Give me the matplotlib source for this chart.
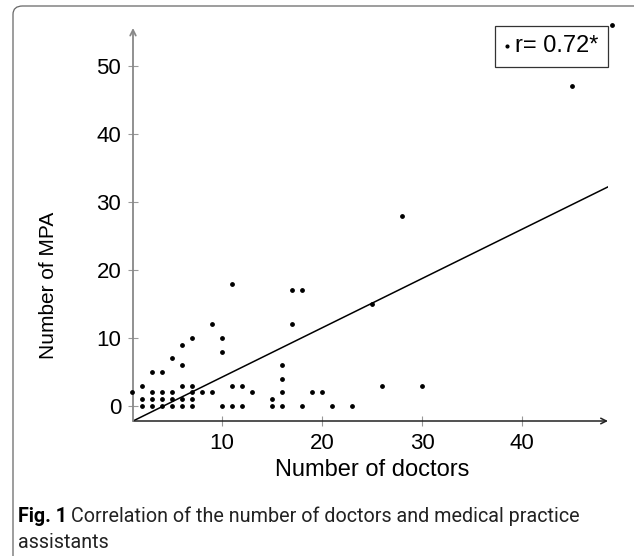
import numpy as np
import matplotlib.pyplot as plt
from matplotlib.patches import FancyBboxPatch

# doctors (x) and medical practice assistants (y) per practice
doctors = [1, 2, 2, 2, 3, 3, 3, 3, 4, 4, 4, 4, 5, 5, 5, 5,
           6, 6, 6, 6, 6, 7, 7, 7, 7, 7, 8, 9, 9, 10, 10, 10,
           11, 11, 11, 12, 12, 13, 15, 15, 16, 16, 16, 16, 17, 17,
           18, 18, 19, 20, 21, 23, 25, 26, 28, 30, 45, 49]
mpa = [2, 0, 1, 3, 0, 1, 2, 5, 0, 1, 2, 5, 0, 1, 2, 7,
       0, 1, 3, 6, 9, 0, 1, 2, 3, 10, 2, 2, 12, 0, 8, 10,
       0, 3, 18, 0, 3, 2, 0, 1, 0, 2, 4, 6, 12, 17,
       0, 17, 2, 2, 0, 0, 15, 3, 28, 3, 47, 56]

reg_slope = 0.725
reg_intercept = -3.0
r_label = "r= 0.72*"

x_ticks = [10, 20, 30, 40]
y_ticks = [0, 10, 20, 30, 40, 50]

W, H = 634, 556
plt.rcParams['font.family'] = ['Liberation Sans', 'DejaVu Sans']
fig = plt.figure(figsize=(W / 100, H / 100), dpi=100)

# outer rounded frame of the figure panel
frame = FancyBboxPatch((13 / W, -0.05), 1.2, 1 - 6 / H + 0.05,
                       boxstyle="round,pad=0,rounding_size=0.015",
                       transform=fig.transFigure, fill=False,
                       edgecolor='#666666', linewidth=0.9)
fig.patches.append(frame)

ax = fig.add_axes([133 / W, 1 - 421 / H, (608 - 133) / W, (421 - 28) / H])
ax.set_xlim(1.1, 48.6)
ax.set_ylim(-2.2, 55.6)
for s in ax.spines.values():
    s.set_visible(False)

# axes with arrow heads
ax.annotate("", xy=(1, 0), xytext=(0, 0), xycoords='axes fraction',
            arrowprops=dict(arrowstyle='->', color='#222222', lw=1.1,
                            shrinkA=0, shrinkB=0))
ax.annotate("", xy=(0, 1), xytext=(0, 0), xycoords='axes fraction',
            arrowprops=dict(arrowstyle='->', color='#888888', lw=1.3,
                            shrinkA=0, shrinkB=0))

ax.scatter(doctors, mpa, s=6, color='black', zorder=3, clip_on=False,
           label=r_label)
xs = np.array(ax.get_xlim())
ax.plot(xs, reg_slope * xs + reg_intercept, color='black', lw=1.1)

ax.set_xticks(x_ticks)
ax.set_yticks(y_ticks)
ax.tick_params(direction='inout', length=7, width=0.8, color='#999999',
               labelsize=16, pad=5)

ax.set_xlabel("Number of doctors", fontsize=17)
ax.xaxis.set_label_coords(0.503, -0.096)
ax.set_ylabel("Number of MPA", fontsize=15)
ax.yaxis.set_label_coords(-0.158, 0.346)

leg = ax.legend(loc='upper right', bbox_to_anchor=(1.0, 1.005),
                fontsize=17, frameon=True, fancybox=False,
                handlelength=0.2, handletextpad=0.25, borderpad=0.4,
                borderaxespad=0, markerscale=0.8)
leg.get_frame().set_edgecolor('black')
leg.get_frame().set_linewidth(0.9)

# caption
cap_font = ['Roboto', 'DejaVu Sans']
cap_size = 14.2
t1 = fig.text(18 / W, 1 - 522 / H, "Fig. 1", fontsize=cap_size,
              fontweight='bold', family=cap_font, va='baseline')
fig.canvas.draw()
bb = t1.get_window_extent()
fig.text((bb.x1 + 4) / W, 1 - 522 / H,
         "Correlation of the number of doctors and medical practice",
         fontsize=cap_size, family=cap_font, va='baseline', color='#222222')
fig.text(18 / W, 1 - 548 / H, "assistants", fontsize=cap_size,
         family=cap_font, va='baseline', color='#222222')

fig.savefig("out.png", dpi=100)
